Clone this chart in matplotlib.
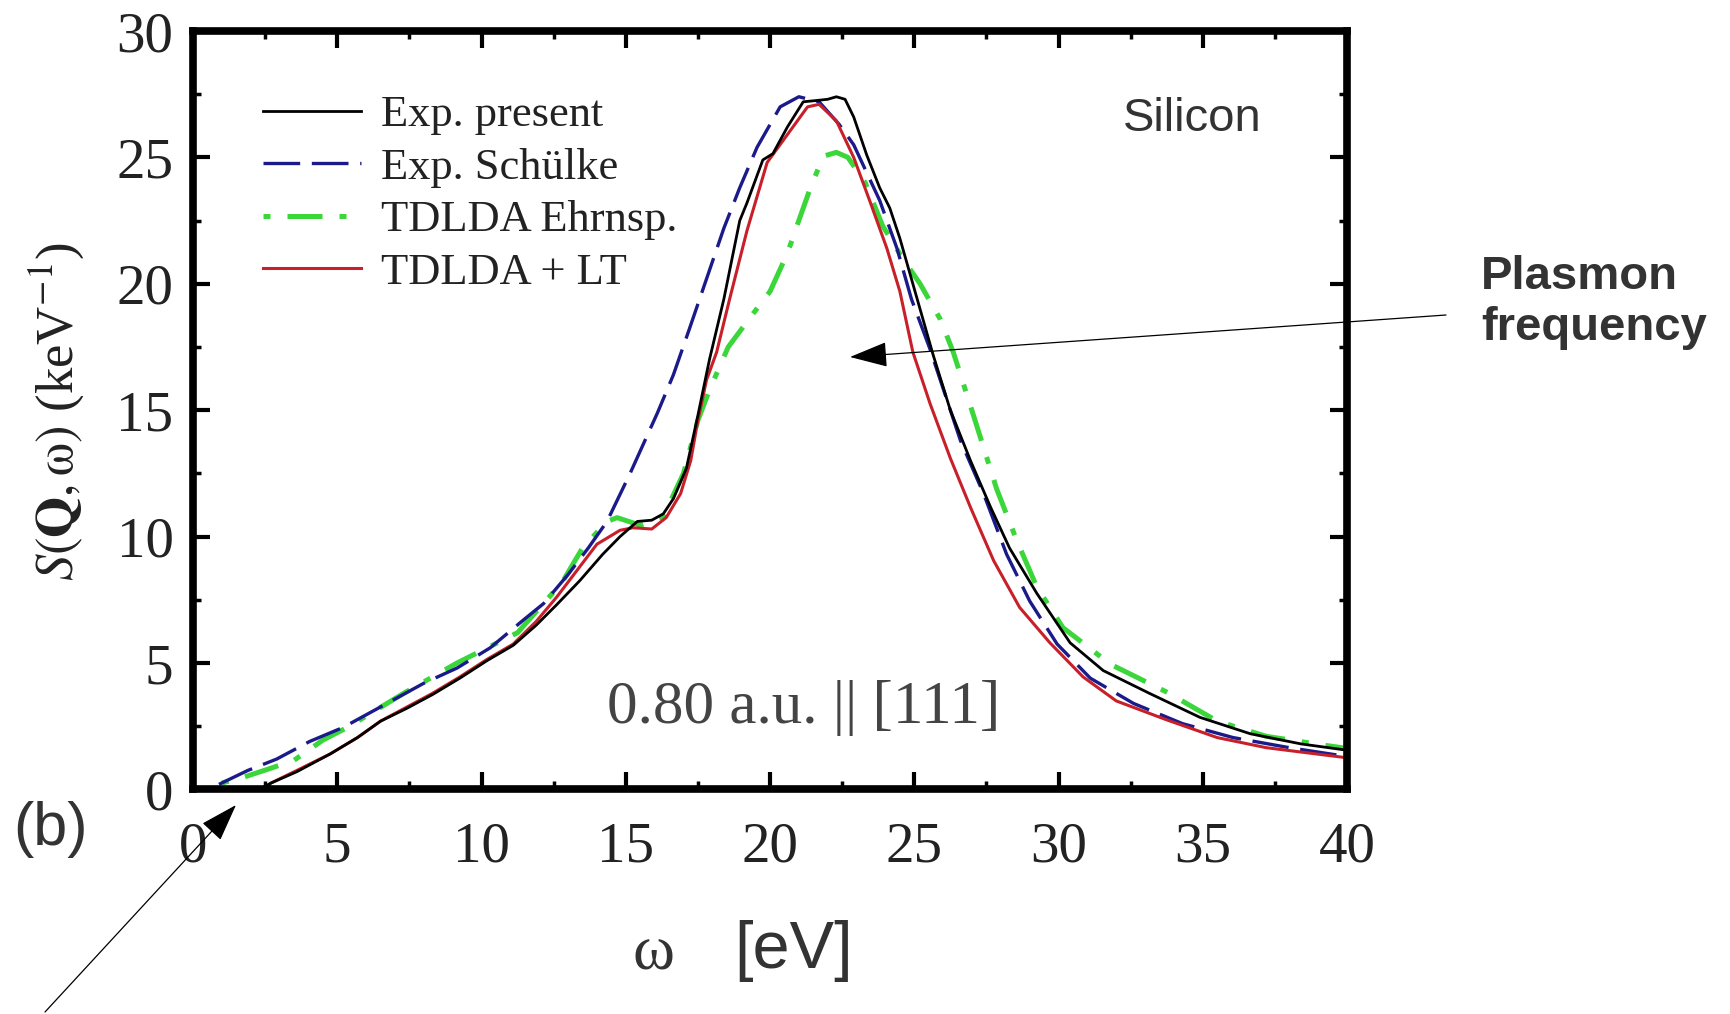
import numpy as np
import matplotlib.pyplot as plt
from matplotlib.ticker import MultipleLocator

plt.rcParams['mathtext.fontset'] = 'stix'

# energy loss omega [eV] and S(Q,omega) [keV^-1]
# Exp. present (black)
exp_x = [2.3, 2.7, 3.6, 4.75, 5.7, 6.5, 7.4, 8.3, 9.25, 10.2, 11.1, 11.9, 12.6, 13.4, 14.2,
         14.8, 15.4, 15.9, 16.3, 16.65, 17.1, 17.5, 17.9, 18.4, 18.95, 19.2, 19.75, 20.1, 20.6,
         21.15, 21.6, 22.0, 22.3, 22.6, 22.9, 23.35, 23.8, 24.15, 24.5, 24.95, 25.65, 26.25,
         26.95, 27.65, 28.3, 29.25, 30.4, 31.55, 33.15, 34.9, 36.65, 38.4, 40.0]
exp_y = [0.0, 0.25, 0.7, 1.4, 2.05, 2.7, 3.2, 3.75, 4.4, 5.1, 5.7, 6.5, 7.3, 8.25, 9.3,
         10.0, 10.6, 10.65, 10.9, 11.5, 12.7, 14.8, 17.0, 19.4, 22.5, 23.2, 24.9, 25.15, 26.2,
         27.2, 27.25, 27.3, 27.4, 27.3, 26.6, 25.1, 23.8, 23.0, 21.8, 20.0, 17.2, 15.0,
         13.0, 11.15, 9.55, 7.75, 5.8, 4.7, 3.8, 2.85, 2.2, 1.8, 1.55]

# Exp. Schulke (blue dashed)
sch_x = [0.9, 1.9, 2.9, 4.05, 5.2, 6.4, 8.0, 9.15, 10.3, 11.45, 12.15, 13.0, 13.7, 14.35,
         15.15, 16.1, 16.65, 17.2, 17.8, 18.4, 18.95, 19.55, 20.35, 21.0, 21.7, 22.4, 22.9,
         23.8, 24.4, 24.9, 25.55, 26.6, 27.4, 28.2, 29.0, 29.95, 31.1, 32.6, 34.3, 36.05,
         38.0, 40.0]
sch_y = [0.2, 0.75, 1.2, 1.9, 2.45, 3.2, 4.2, 4.8, 5.6, 6.7, 7.35, 8.5, 9.55, 10.6,
         12.5, 14.9, 16.4, 18.2, 20.2, 22.2, 23.8, 25.4, 27.0, 27.4, 27.2, 26.3, 25.5,
         23.3, 21.4, 19.4, 17.4, 13.8, 11.7, 9.3, 7.45, 5.75, 4.4, 3.4, 2.6, 2.05,
         1.65, 1.3]

# TDLDA Ehrnsp. (green dash-dot)
ehr_x = [1.0, 1.8, 2.6, 3.5, 4.5, 5.35, 7.3, 9.15, 11.25, 12.8, 13.5, 14.35, 14.7, 15.5,
         16.3, 17.0, 17.5, 17.9, 18.55, 19.3, 20.0, 20.6, 20.95, 21.4, 21.85, 22.3, 22.7,
         23.3, 23.9, 24.6, 25.2, 25.9, 26.35, 27.05, 27.85, 28.55, 29.25, 30.15, 31.8,
         33.75, 35.5, 37.2, 39.2, 40.0]
ehr_y = [0.25, 0.5, 0.8, 1.15, 1.95, 2.45, 3.8, 5.0, 6.2, 8.2, 9.55, 10.6, 10.75, 10.45,
         10.8, 12.5, 14.6, 15.8, 17.5, 18.65, 19.7, 21.2, 22.35, 23.8, 25.05, 25.2, 25.0,
         24.0, 22.3, 21.0, 20.0, 18.6, 17.3, 14.8, 11.9, 9.85, 8.0, 6.4, 4.95,
         3.85, 2.7, 2.1, 1.75, 1.62]

# TDLDA + LT (red)
lt_x = [2.5, 2.7, 3.6, 4.75, 5.7, 6.5, 7.4, 8.3, 9.25, 10.2, 11.1, 11.9, 12.6, 13.3, 14.0,
        14.8, 15.25, 15.9, 16.4, 16.9, 17.25, 17.5, 17.8, 18.15, 18.6, 19.2, 19.9, 20.6,
        21.3, 21.7, 22.3, 22.9, 23.45, 24.05, 24.5, 24.95, 25.55, 26.25, 26.95, 27.75,
        28.65, 29.7, 30.85, 32.0, 33.75, 35.5, 37.2, 38.95, 40.0]
lt_y = [0.0, 0.25, 0.75, 1.4, 2.05, 2.7, 3.25, 3.8, 4.45, 5.15, 5.75, 6.65, 7.6, 8.65, 9.7,
        10.25, 10.35, 10.3, 10.75, 11.7, 13.0, 14.6, 16.2, 17.3, 19.4, 22.1, 24.8, 25.9,
        27.0, 27.1, 26.45, 25.0, 23.3, 21.4, 19.7, 17.3, 15.25, 13.1, 11.15, 9.05,
        7.2, 5.8, 4.45, 3.5, 2.75, 2.05, 1.65, 1.4, 1.25]

fig = plt.figure(figsize=(17.31, 10.14), dpi=100)
ax = fig.add_axes([0.1115, 0.2215, 0.6667, 0.7479])

l_ehr, = ax.plot(ehr_x, ehr_y, color='#3ad63a', lw=3.6,
                 linestyle=(10.4, (7, 3.4, 1.4, 3.4)), label='TDLDA Ehrnsp.')
l_sch, = ax.plot(sch_x, sch_y, color='#1a1a8a', lw=2.4, dashes=(11, 3.5),
                 label='Exp. Schülke')
l_lt, = ax.plot(lt_x, lt_y, color='#c8202a', lw=2.2, label='TDLDA + LT')
l_exp, = ax.plot(exp_x, exp_y, color='black', lw=2.0, label='Exp. present')

ax.set_xlim(0, 40)
ax.set_ylim(0, 30)
ax.xaxis.set_major_locator(MultipleLocator(5))
ax.xaxis.set_minor_locator(MultipleLocator(2.5))
ax.yaxis.set_major_locator(MultipleLocator(5))
ax.yaxis.set_minor_locator(MultipleLocator(2.5))
ax.tick_params(which='both', direction='in', top=True, right=True, colors='black')
ax.tick_params(which='major', length=12, width=3)
ax.tick_params(which='minor', length=5.5, width=2.5)
ax.tick_params(axis='x', which='major', pad=23, labelsize=41, labelcolor='#222222')
ax.tick_params(axis='y', which='major', pad=14, labelsize=41, labelcolor='#222222')
for lab in ax.get_xticklabels() + ax.get_yticklabels():
    lab.set_family('Liberation Serif')
for sp in ax.spines.values():
    sp.set_linewidth(5.5)

leg = ax.legend(handles=[l_exp, l_sch, l_ehr, l_lt], loc='upper left',
                bbox_to_anchor=(263 / 1731, 1 - 95 / 1014), bbox_transform=fig.transFigure,
                frameon=False, borderpad=0, borderaxespad=0, handlelength=2.2,
                handletextpad=0.45, labelspacing=0.28,
                prop={'family': 'Liberation Serif', 'size': 32})
for t in leg.get_texts():
    t.set_color('#222222')

ax.text(0.5295, 0.1067, '0.80 a.u. || [111]', transform=ax.transAxes, ha='center',
        va='center', family='Liberation Serif', fontsize=44, color='#444444')

fig.text(56 / 1731, 1 - 411 / 1014, r'$S(\mathbf{Q},\mathrm{\omega})$ (keV$^{-1}$)',
         rotation=90, ha='center', va='center', family='Liberation Serif', fontsize=38,
         color='#222222')
fig.text(0.6886, 0.8826, 'Silicon', ha='center', va='center', family='Liberation Sans',
         fontsize=34, color='#333333')
fig.text(1481 / 1731, 1 - 289 / 1014, 'Plasmon', ha='left', va='baseline',
         family='Liberation Sans', fontweight='bold', fontsize=34, color='#333333')
fig.text(1481 / 1731, 1 - 340 / 1014, 'frequency', ha='left', va='baseline',
         family='Liberation Sans', fontweight='bold', fontsize=34, color='#333333')
fig.text(0.0289, 0.1815, '(b)', ha='center', va='center', family='Liberation Sans',
         fontsize=44, color='#333333')
fig.text(654 / 1731, 1 - 955 / 1014, 'ω', ha='center', va='center',
         family='Liberation Serif', fontsize=46, color='#333333')
fig.text(794 / 1731, 1 - 951 / 1014, '[eV]', ha='center', va='center',
         family='Liberation Sans', fontsize=48, color='#333333')

arrow = dict(arrowstyle='-|>,head_length=1.2,head_width=0.4', mutation_scale=20,
             lw=0.9, color='black', shrinkA=0, shrinkB=0)
ax.annotate('', xy=(850 / 1731, 1 - 357 / 1014), xycoords='figure fraction',
            xytext=(1446 / 1731, 1 - 315 / 1014), textcoords='figure fraction',
            arrowprops=arrow, annotation_clip=False)
ax.annotate('', xy=(236 / 1731, 1 - 805 / 1014), xycoords='figure fraction',
            xytext=(45 / 1731, 1 - 1012 / 1014), textcoords='figure fraction',
            arrowprops=arrow, annotation_clip=False)

fig.savefig('out.png', dpi=100)
